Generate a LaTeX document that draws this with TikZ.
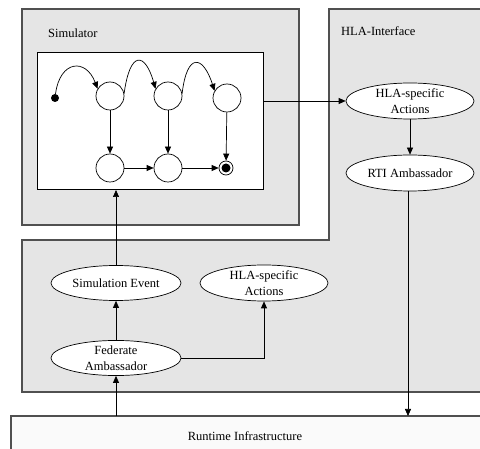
\documentclass[tikz,border=0pt]{standalone}
\usepackage{fontspec}
\setmainfont{Liberation Serif}
\usetikzlibrary{arrows.meta,shapes.geometric}
\definecolor{panelfill}{HTML}{E5E5E5}
\definecolor{panelline}{HTML}{505050}
\definecolor{rtifill}{HTML}{FAFAFA}
\tikzset{
  panel/.style={fill=panelfill,draw=panelline,line width=1.1pt},
  state/.style={circle,draw,fill=white,minimum size=28pt,inner sep=0pt,line width=0.7pt},
  actor/.style={ellipse,draw,fill=white,minimum width=128pt,minimum height=36pt,inner sep=0pt,
    align=center,line width=0.7pt,font=\fontsize{12.5}{16}\selectfont},
  flow/.style={-{Triangle[length=7pt,width=6pt]},line width=0.7pt},
  label/.style={font=\fontsize{12.5}{15}\selectfont,anchor=west,inner sep=0pt}
}
\begin{document}
\begin{tikzpicture}[x=1pt,y=-1pt]
\useasboundingbox (0,0) rectangle (480,449);
\fill[white] (0,0) rectangle (480,449);

% HLA-Interface panel (L-shaped, open towards the right)
\fill[panelfill] (329,9) -- (480,9) -- (480,392) -- (22,392) -- (22,240) -- (329,240) -- cycle;
\draw[panelline,line width=1.1pt] (480,9) -- (329,9) -- (329,240) -- (22,240) -- (22,392) -- (480,392);
\node[label] (hlalbl) at (341,31) {HLA-Interface};

% Simulator panel
\draw[panel] (22,9) rectangle (299,225);
\node[label] (simlbl) at (48,33) {Simulator};

% state machine area
\node[draw=black,fill=white,line width=1pt,minimum width=226pt,minimum height=137pt,inner sep=0pt,anchor=north west] (sm) at (37,52) {};

% Runtime infrastructure bar
\fill[rtifill] (11,416) rectangle (480,449);
\draw[panelline,line width=1.1pt] (480,416) -- (11,416) -- (11,449);
\node[font=\fontsize{12.5}{15}\selectfont,inner sep=0pt] (rti) at (245,436) {Runtime Infrastructure};
\coordinate (rtiA) at (116,416);
\coordinate (rtiB) at (408,416);

% states
\node[fill=black,circle,inner sep=0pt,minimum size=8pt] (init) at (55,98) {};
\node[state] (s1) at (110,96) {};
\node[state] (s2) at (168,96) {};
\node[state] (s3) at (227,98) {};
\node[state] (s4) at (110,168) {};
\node[state] (s5) at (168,168) {};
\node[circle,draw,fill=white,minimum size=14pt,inner sep=0pt,line width=0.7pt] (fin) at (226,168) {};
\node[circle,fill=black,minimum size=9pt,inner sep=0pt] at (fin) {};

% transitions
\draw[flow] (init) .. controls (60,60) and (86,58) .. (s1.150);
\draw[flow] (s1.10) .. controls (130,50) and (145,52) .. (s2.150);
\draw[flow] (s2.10) .. controls (187,52) and (203,55) .. (s3.150);
\draw[flow] (s1) -- (s4);
\draw[flow] (s2) -- (s5);
\draw[flow] (s3) -- (fin);
\draw[flow] (s4) -- (s5);
\draw[flow] (s5) -- (fin);

% interface elements
\node[actor] (hla1) at (410,101) {HLA-specific\\Actions};
\node[actor] (rtiamb) at (410,173) {RTI Ambassador};
\node[actor,minimum width=130pt,minimum height=35pt] (simev) at (116,283) {Simulation Event};
\node[actor,minimum width=130pt,minimum height=34pt] (fed) at (116,358) {Federate\\Ambassador};
\node[actor,minimum height=36pt] (hla2) at (264,283) {HLA-specific\\Actions};

% connectors
\draw[flow] (sm.east |- 0,101) -- (hla1.west);
\draw[flow] (hla1) -- (rtiamb);
\draw[flow] (rtiamb.south -| rtiB) -- (rtiB);
\draw[flow] (simev.north) -- (sm.south -| simev.north);
\draw[flow] (fed) -- (simev);
\draw[flow] (fed.east) -| (hla2.south);
\draw[flow] (rtiA) -- (fed.south);
\end{tikzpicture}
\end{document}
